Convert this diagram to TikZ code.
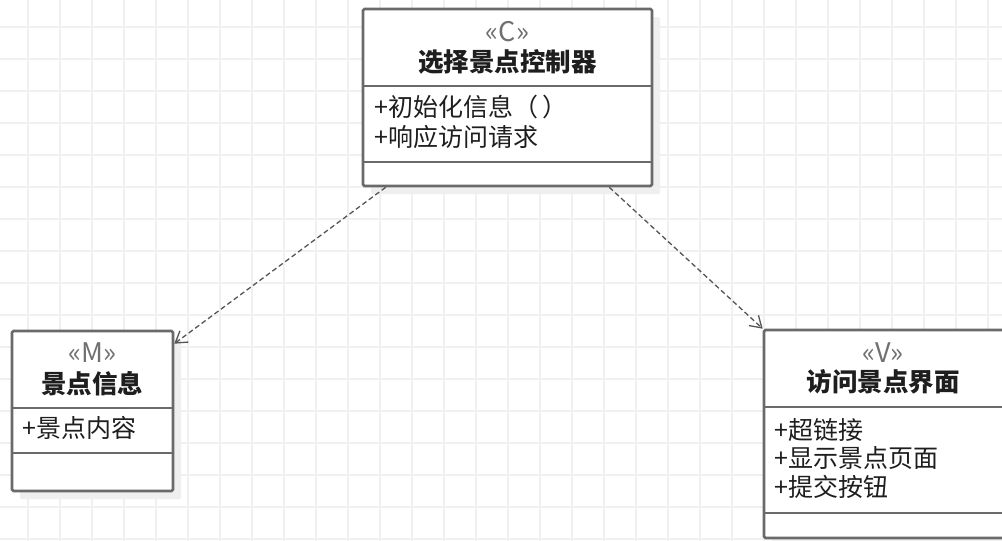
\documentclass[tikz,border=0pt]{standalone}
\usepackage{fontspec}
\setmainfont{Noto Sans CJK SC}
\usetikzlibrary{arrows.meta,shadows}
\definecolor{gridc}{HTML}{F0F0F0}
\definecolor{boxc}{HTML}{6A6A6A}
\definecolor{shadowc}{HTML}{EFEFEF}
\definecolor{stc}{HTML}{707070}
\definecolor{txtc}{HTML}{1E1E1E}
\definecolor{depc}{HTML}{555555}
\tikzset{
  gridline/.style={draw=gridc, line width=1.3pt},
  umlbox/.style={draw=boxc, line width=2.6pt, fill=white, rounded corners=1.5pt, inner sep=0pt,
    drop shadow={shadow xshift=8pt, shadow yshift=-8pt, fill=shadowc, opacity=1}},
  sepline/.style={draw=boxc, line width=2.6pt},
  stereo/.style={inner sep=0pt, text=stc, font=\fontsize{27}{28}\selectfont},
  ctitle/.style={inner sep=0pt, text=txtc, font=\fontsize{25.5}{28}\selectfont\bfseries},
  member/.style={inner sep=0pt, anchor=west, text=txtc, font=\fontsize{25}{28}\selectfont},
  dep/.style={draw=depc, line width=1.3pt, dash pattern=on 5pt off 3pt,
    -{Straight Barb[length=11pt,width=14pt,line width=1.3pt]}}
}
\begin{document}
\begin{tikzpicture}[x=1pt,y=-1pt]
\useasboundingbox (0,0) rectangle (1002,541);
\fill[white] (0,0) rectangle (1002,541);
% grid
\foreach \gx in {28,60,...,1000} { \draw[gridline] (\gx,0) -- (\gx,541); }
\foreach \gy in {27,59,...,541} { \draw[gridline] (0,\gy) -- (1002,\gy); }

% controller box
\node[umlbox, minimum width=289pt, minimum height=177pt] (C) at (507.5,97.5) {};
\coordinate (Cs1) at (363,86);
\coordinate (Cs2) at (363,162);
\draw[sepline] (Cs1) -- (Cs1 -| C.east);
\draw[sepline] (Cs2) -- (Cs2 -| C.east);
\node[stereo] (Cst) at (507.5,32) {«C»};
\node[ctitle] (Ctl) at (507.5,62) {选择景点控制器};
\node[member] (Cm1) at (374,107) {+初始化信息（\,）};
\node[member] (Cm2) at (374,137) {+响应访问请求};

% model box
\node[umlbox, minimum width=161pt, minimum height=160pt] (M) at (92.5,411) {};
\coordinate (Ms1) at (12,408);
\coordinate (Ms2) at (12,453);
\draw[sepline] (Ms1) -- (Ms1 -| M.east);
\draw[sepline] (Ms2) -- (Ms2 -| M.east);
\node[stereo] (Mst) at (92.5,353) {«M»};
\node[ctitle] (Mtl) at (92.5,384) {景点信息};
\node[member] (Mm1) at (22,428) {+景点内容};

% view box
\node[umlbox, minimum width=246pt, minimum height=208pt] (V) at (887,434) {};
\coordinate (Vs1) at (764,407);
\coordinate (Vs2) at (764,513);
\draw[sepline] (Vs1) -- (Vs1 -| V.east);
\draw[sepline] (Vs2) -- (Vs2 -| V.east);
\node[stereo] (Vst) at (883,353) {«V»};
\node[ctitle] (Vtl) at (883,382) {访问景点界面};
\node[member] (Vm1) at (774,430) {+超链接};
\node[member] (Vm2) at (774,458) {+显示景点页面};
\node[member] (Vm3) at (774,487) {+提交按钮};

% dependencies
\draw[dep] ([xshift=24pt]C.south west) -- ([yshift=-14pt]M.north east);
\draw[dep] ([xshift=-44pt]C.south east) -- (V.north west);
\end{tikzpicture}
\end{document}
